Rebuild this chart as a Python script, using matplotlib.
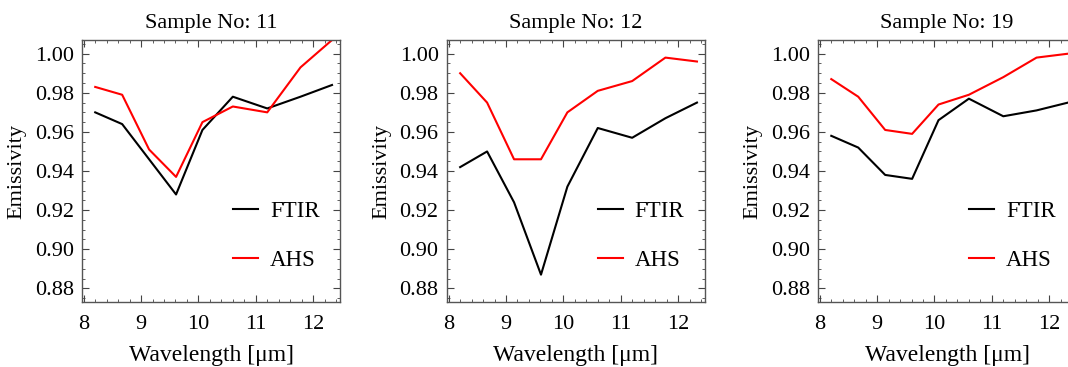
import matplotlib
matplotlib.use('Agg')
import matplotlib.pyplot as plt
from matplotlib.ticker import MultipleLocator

plt.rcParams['font.family'] = ['Liberation Serif', 'DejaVu Serif']

wavelength = [8.2, 8.67, 9.14, 9.61, 10.07, 10.6, 11.2, 11.78, 12.33]

samples = ['11', '12', '19']

ftir_11 = [0.970, 0.964, 0.946, 0.928, 0.961, 0.978, 0.972, 0.978, 0.984]
ahs_11 = [0.983, 0.979, 0.951, 0.937, 0.965, 0.973, 0.970, 0.993, 1.007]

ftir_12 = [0.942, 0.950, 0.924, 0.887, 0.932, 0.962, 0.957, 0.967, 0.975]
ahs_12 = [0.990, 0.975, 0.946, 0.946, 0.970, 0.981, 0.986, 0.998, 0.996]

ftir_19 = [0.958, 0.952, 0.938, 0.936, 0.966, 0.977, 0.968, 0.971, 0.975]
ahs_19 = [0.987, 0.978, 0.961, 0.959, 0.974, 0.979, 0.988, 0.998, 1.000]

ftir_all = [ftir_11, ftir_12, ftir_19]
ahs_all = [ahs_11, ahs_12, ahs_19]

fig = plt.figure(figsize=(10.68, 3.67), dpi=100)
lefts = [0.0768, 0.4185, 0.766]

for i in range(3):
    ax = fig.add_axes([lefts[i], 0.177, 0.2416, 0.714])
    ax.plot(wavelength, ftir_all[i], color='black', lw=1.5, label='FTIR')
    ax.plot(wavelength, ahs_all[i], color='red', lw=1.5, label='AHS')
    ax.set_xlim(7.97, 12.47)
    ax.set_ylim(0.873, 1.007)
    ax.xaxis.set_major_locator(MultipleLocator(1))
    ax.xaxis.set_minor_locator(MultipleLocator(0.2))
    ax.yaxis.set_major_locator(MultipleLocator(0.02))
    ax.yaxis.set_minor_locator(MultipleLocator(0.005))
    ax.yaxis.set_major_formatter(plt.FormatStrFormatter('%.2f'))
    ax.tick_params(which='both', direction='in', top=True, right=True,
                   color='#444444', labelsize=16)
    ax.tick_params(axis='x', which='major', length=5, pad=9)
    ax.tick_params(axis='y', which='major', length=5, pad=6)
    ax.tick_params(which='minor', length=2.5)
    for sp in ax.spines.values():
        sp.set_color('#555555')
        sp.set_linewidth(1.0)
    ax.set_title('Sample No: ' + samples[i], fontsize=16, pad=9)
    ax.set_xlabel('Wavelength [\u03bcm]', fontsize=17, labelpad=8)
    ax.set_ylabel('Emissivity', fontsize=16, labelpad=6)
    ax.legend(loc='lower right', frameon=False, fontsize=16.5, handlelength=1.1,
              handletextpad=0.5, labelspacing=1.2, bbox_to_anchor=(1.0, 0.04))

fig.savefig('out.png', dpi=100)
